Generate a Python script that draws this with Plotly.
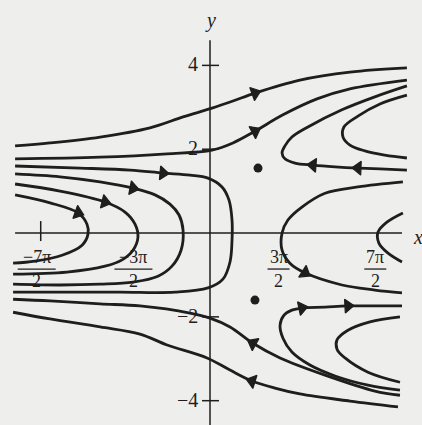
import math
import plotly.graph_objects as go

PI = math.pi

# Phase-plane trajectories, each listed in the direction of the flow.
# *_arrows holds the indices of the points that carry an arrowhead.
c1_x = [-12.66, -10.39, -7.14, -3.90, -1.75, 0.13, 1.49, 2.92, 5.84, 9.09, 12.79]
c1_y = [2.08, 2.15, 2.29, 2.51, 2.77, 2.98, 3.15, 3.34, 3.65, 3.84, 3.94]
c1_arrows = [7]

c2_x = [-12.66, -7.14, -2.79, 0.13, 1.49, 2.92, 4.74, 6.95, 9.09, 12.79]
c2_y = [1.77, 1.81, 1.89, 1.98, 2.15, 2.43, 2.82, 3.20, 3.44, 3.65]
c2_arrows = [5]

c3_x = [12.79, 11.04, 9.61, 8.12, 6.69, 5.52, 4.87, 4.68, 4.87, 5.32, 6.36, 8.57, 10.71, 12.79]
c3_y = [1.50, 1.53, 1.55, 1.58, 1.62, 1.67, 1.77, 1.91, 2.08, 2.29, 2.53, 2.94, 3.25, 3.51]
c3_arrows = [2, 4]

c4_x = [12.79, 11.04, 9.61, 8.70, 8.64, 9.09, 10.06, 11.36, 12.79]
c4_y = [3.29, 3.08, 2.79, 2.53, 2.29, 2.10, 1.96, 1.86, 1.79]
c4_arrows = []

c5_x = [12.53, 9.61, 7.47, 5.97, 5.06, 4.68, 4.68, 5.19, 6.17, 8.57, 10.71, 12.47]
c5_y = [1.22, 1.10, 0.95, 0.62, 0.31, 0.0, -0.41, -0.72, -0.95, -1.24, -1.36, -1.43]
c5_arrows = [8]

c6_x = [12.53, 11.49, 10.91, 10.97, 11.56, 12.47]
c6_y = [0.48, 0.26, 0.02, -0.24, -0.48, -0.69]
c6_arrows = []

c7_x = [12.34, 10.26, 8.12, 6.49, 5.32, 4.74, 4.55, 4.81, 5.32, 5.97, 7.47, 8.96, 12.47]
c7_y = [-3.75, -3.63, -3.41, -3.15, -2.84, -2.51, -2.20, -1.96, -1.84, -1.79, -1.77, -1.74, -1.74]
c7_arrows = [9, 11]

c8_x = [12.34, 10.39, 8.96, 8.25, 8.25, 8.77, 10.26, 12.34]
c8_y = [-2.00, -2.12, -2.32, -2.55, -2.77, -2.98, -3.32, -3.56]
c8_arrows = []

c9_x = [12.34, 10.71, 7.47, 4.55, 2.79, 1.30, 0.0, -1.30, -4.55, -7.14, -10.39, -12.79]
c9_y = [-3.87, -3.77, -3.39, -2.98, -2.63, -2.24, -2.03, -1.91, -1.74, -1.69, -1.62, -1.58]
c9_arrows = [4]

c10_x = [12.21, 9.09, 5.84, 4.22, 2.73, 1.30, -0.19, -2.79, -4.55, -7.14, -10.39, -12.79]
c10_y = [-4.15, -4.01, -3.84, -3.70, -3.53, -3.27, -2.98, -2.67, -2.41, -2.24, -2.05, -1.89]
c10_arrows = [4]

c11_x = [-12.66, -8.44, -5.19, -3.05, -1.30, -0.13, 0.78, 1.23, 1.43, 1.43, 1.30, 0.84,
         -0.13, -2.27, -5.84, -9.74, -12.79]
c11_y = [1.60, 1.55, 1.50, 1.43, 1.38, 1.31, 1.10, 0.79, 0.31, -0.17, -0.69, -1.10,
         -1.31, -1.41, -1.41, -1.41, -1.41]
c11_arrows = [3]

c12_x = [-12.66, -9.74, -7.14, -5.00, -3.57, -2.60, -2.01, -1.75, -1.88, -2.47, -3.38,
         -5.00, -7.14, -9.74, -12.79]
c12_y = [1.41, 1.34, 1.22, 1.07, 0.91, 0.69, 0.43, 0.07, -0.41, -0.79, -1.03,
         -1.17, -1.22, -1.24, -1.22]
c12_arrows = [3]

c13_x = [-12.66, -9.74, -6.82, -5.52, -4.87, -4.68, -5.00, -5.71, -6.82, -9.29, -12.79]
c13_y = [1.17, 1.00, 0.74, 0.50, 0.21, -0.10, -0.41, -0.64, -0.79, -0.93, -0.98]
c13_arrows = [2]

c14_x = [-12.66, -10.39, -8.57, -7.99, -7.92, -8.31, -9.61, -11.36, -12.79]
c14_y = [0.91, 0.72, 0.48, 0.21, -0.02, -0.29, -0.53, -0.67, -0.72]
c14_arrows = [2]

# Equilibrium points
equilibria_x = [3.12, 2.92]
equilibria_y = [1.55, -1.60]

# Axes and labels
x_axis_span = [-12.66, 12.47]
y_axis_span = [-4.6, 4.6]
y_ticks = [4, 2, -2, -4]
y_tick_text = ["4", "2", "−2", "−4"]
x_tick_marks = [-7 * PI / 2]
x_label_pos = [-7 * PI / 2, -3 * PI / 2, 3 * PI / 2, 7 * PI / 2]
x_label_num = ["−7π", "−3π", "3π", "7π"]
x_label_den = ["2", "2", "2", "2"]

INK = "#1e1e1e"
PAPER = "#eeeeec"
SERIF = "Liberation Serif, Times New Roman, serif"

curves = [
    (c1_x, c1_y, c1_arrows), (c2_x, c2_y, c2_arrows), (c3_x, c3_y, c3_arrows),
    (c4_x, c4_y, c4_arrows), (c5_x, c5_y, c5_arrows), (c6_x, c6_y, c6_arrows),
    (c7_x, c7_y, c7_arrows), (c8_x, c8_y, c8_arrows), (c9_x, c9_y, c9_arrows),
    (c10_x, c10_y, c10_arrows), (c11_x, c11_y, c11_arrows), (c12_x, c12_y, c12_arrows),
    (c13_x, c13_y, c13_arrows), (c14_x, c14_y, c14_arrows),
]

fig = go.Figure()

# coordinate axes
fig.add_trace(go.Scatter(x=x_axis_span, y=[0, 0], mode="lines",
                         line=dict(color=INK, width=1.5), hoverinfo="skip"))
fig.add_trace(go.Scatter(x=[0, 0], y=y_axis_span, mode="lines",
                         line=dict(color=INK, width=1.5), hoverinfo="skip"))

for xs, ys, arrows in curves:
    sizes = [12 if i in arrows else 0 for i in range(len(xs))]
    fig.add_trace(go.Scatter(
        x=xs, y=ys, mode="lines+markers",
        line=dict(color=INK, width=2.8, shape="spline", smoothing=1.0),
        marker=dict(symbol="triangle-up", size=sizes, color=INK, opacity=1,
                    angleref="previous", line=dict(width=1.2, color=INK)),
        hoverinfo="skip",
    ))

fig.add_trace(go.Scatter(x=equilibria_x, y=equilibria_y, mode="markers",
                         marker=dict(size=9, color=INK), hoverinfo="skip"))

# tick marks
for yt in y_ticks:
    fig.add_shape(type="line", xref="x", yref="y", xsizemode="pixel", xanchor=0,
                  x0=-8, x1=9, y0=yt, y1=yt, line=dict(color=INK, width=1.5))
for xt in x_tick_marks:
    fig.add_shape(type="line", xref="x", yref="y", ysizemode="pixel", yanchor=0,
                  x0=xt, x1=xt, y0=-8, y1=12, line=dict(color=INK, width=1.5))

# y tick labels
for yt, txt in zip(y_ticks, y_tick_text):
    fig.add_annotation(x=0, y=yt, text=txt, showarrow=False, xanchor="right",
                       xshift=-10, yshift=1, font=dict(family=SERIF, size=20, color=INK))

# x labels written as stacked fractions
for xv, num, den in zip(x_label_pos, x_label_num, x_label_den):
    half = 19 if num.startswith("−") else 11
    fig.add_annotation(x=xv, y=0, text=num, showarrow=False, xshift=-4, yshift=-24,
                       font=dict(family=SERIF, size=18, color=INK))
    fig.add_annotation(x=xv, y=0, text=den, showarrow=False, xshift=-4, yshift=-48,
                       font=dict(family=SERIF, size=18, color=INK))
    fig.add_shape(type="line", xref="x", yref="y", xsizemode="pixel", xanchor=xv,
                  ysizemode="pixel", yanchor=0, x0=-4 - half, x1=-4 + half,
                  y0=-36, y1=-36, line=dict(color=INK, width=1.3))

# axis names
fig.add_annotation(x=0, y=y_axis_span[1], text="<i>y</i>", showarrow=False,
                   yanchor="bottom", yshift=6, font=dict(family=SERIF, size=20, color=INK))
fig.add_annotation(x=x_axis_span[1], y=0, text="<i>x</i>", showarrow=False,
                   xanchor="left", xshift=9, yshift=-4, font=dict(family=SERIF, size=20, color=INK))

fig.update_layout(
    width=422, height=425,
    margin=dict(l=0, r=0, t=0, b=0),
    showlegend=False,
    paper_bgcolor=PAPER, plot_bgcolor=PAPER,
    xaxis=dict(visible=False, range=[-13.64, 13.77], fixedrange=True),
    yaxis=dict(visible=False, range=[-4.58, 5.56], fixedrange=True),
)

fig.write_html("out.html")
